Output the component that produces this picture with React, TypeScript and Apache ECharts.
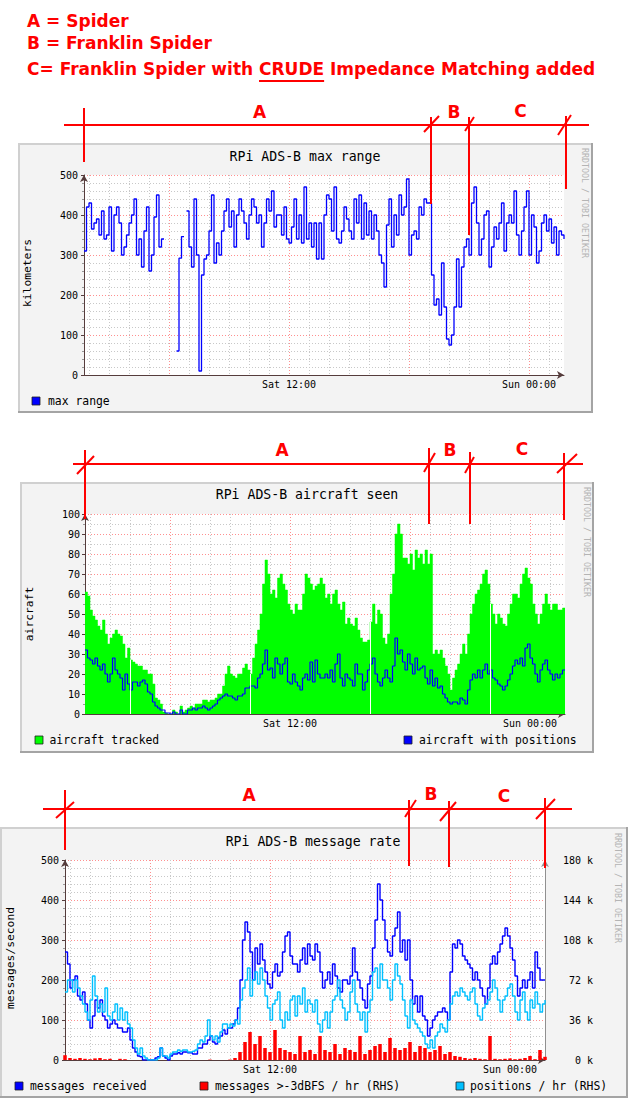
import React, { useEffect, useRef } from "react";
import * as echarts from "echarts";

// ---------- time categories (7.5 min steps, Sat 01:45 .. Sun 01:45) ----------
const START_SEC = 105 * 60;
const STEP_SEC = 450;
const N_POINTS = 193;
function stamp(sec: number) {
  const day = sec >= 86400 ? "Sun" : "Sat";
  const s = sec % 86400;
  const hh = Math.floor(s / 3600);
  const mi = Math.floor((s % 3600) / 60);
  const ss = s % 60;
  const p = (n: number) => String(n).padStart(2, "0");
  return `${day} ${p(hh)}:${p(mi)}:${p(ss)}`;
}
const categories: string[] = Array.from({ length: N_POINTS }, (_, i) => stamp(START_SEC + STEP_SEC * i));
// 15 min categories used by the bar series of the third graph
const barCategories: string[] = Array.from({ length: 97 }, (_, i) => stamp(START_SEC + 900 * i));
const xTickLabels = ["Sat 12:00", "Sun 00:00"];

// ---------- graph 1: max range (km) ----------
const maxRange: (number | null)[] = [
  310, 420, 430, 365, 380, 390, 350, 410, 340, 350,
  420, 310, 400, 420, 380, 300, 320, 350, 380, 400,
  440, 300, 340, 270, 360, 420, 260, 300, 395, 450,
  320, 340, null, null, null, null, null, 60, 292, 346,
  null, 410, 320, 270, 440, 300, 10, 250, 290, 300,
  360, 450, 280, 330, 300, 360, 410, 440, 370, 410,
  320, 400, 440, 410, 380, 340, 400, 440, 420, 380,
  400, 320, 380, 440, 410, 460, 370, 400, 400, 350,
  420, 340, 330, 370, 440, 340, 400, 330, 470, 340,
  380, 320, 380, 290, 380, 290, 400, 450, 440, 360,
  470, 340, 330, 360, 420, 390, 360, 340, 440, 380,
  450, 340, 430, 350, 410, 340, 400, 360, 300, 280,
  220, 375, 440, 320, 400, 350, 450, 400, 420, 490,
  300, 350, 360, 340, 420, 400, 440, 430, 430, 250,
  175, 190, 150, 280, 170, 90, 75, 100, 170, 290,
  170, 270, 320, 340, 300, 430, 470, 380, 300, 340,
  400, 410, 270, 320, 370, 340, 380, 430, 310, 380,
  400, 380, 460, 350, 300, 360, 420, 460, 300, 400,
  370, 280, 310, 380, 400, 360, 390, 330, 370, 300,
  360, 350, 340,
];

// ---------- graph 2: aircraft seen ----------
const aircraftTracked: number[] = [
  61, 59, 52, 49, 47, 44, 42, 47, 40, 35,
  38, 40, 42, 40, 39, 35, 28, 33, 27, 26,
  25, 24, 24, 22, 22, 20, 20, 15, 8, 7,
  5, 1, 0.5, 0, 0, 2, 1, 0, 4, 1,
  2, 3, 4, 3, 5, 5, 5, 7, 7, 6,
  7, 7, 8, 10, 10, 14, 20, 24, 20, 19,
  18, 20, 20, 23, 25, 22, 20, 28, 35, 42,
  50, 65, 77, 70, 60, 62, 58, 68, 70, 65,
  62, 55, 52, 50, 55, 52, 52, 60, 70, 68,
  65, 62, 64, 65, 68, 65, 58, 60, 55, 60,
  62, 55, 52, 56, 45, 48, 45, 44, 48, 42,
  38, 36, 36, 37, 46, 55, 45, 52, 50, 38,
  35, 40, 60, 70, 90, 95, 90, 78, 78, 75,
  80, 72, 82, 78, 80, 75, 82, 75, 80, 30,
  32, 30, 32, 28, 24, 20, 12, 18, 22, 25,
  30, 35, 30, 40, 50, 55, 60, 62, 65, 70,
  72, 65, 55, 50, 45, 50, 48, 45, 44, 50,
  55, 60, 60, 58, 65, 70, 73, 68, 65, 55,
  50, 45, 50, 55, 60, 55, 52, 55, 55, 52,
  52, 53, 53,
];
const aircraftWithPositions: number[] = [
  32, 28, 27, 25, 28, 24, 22, 25, 20, 16,
  20, 28, 22, 20, 18, 12, 20, 15, 12, 16,
  16, 14, 16, 17, 15, 11, 10, 6, 4, 3,
  2, 2, 0.5, 0.5, 0, 1, 0, 0, 2, 0,
  0, 2, 2, 3, 2, 3, 3, 4, 3, 2,
  3, 4, 5, 7, 8, 9, 10, 9, 9, 8,
  7, 9, 9, 10, 13, 13, 14, 14, 13, 18,
  20, 25, 32, 22, 23, 18, 28, 25, 20, 25,
  28, 16, 15, 20, 16, 14, 12, 18, 20, 17,
  26, 16, 27, 20, 18, 18, 20, 18, 22, 16,
  25, 30, 18, 14, 20, 18, 17, 14, 25, 20,
  20, 12, 16, 22, 25, 28, 20, 16, 14, 18,
  22, 18, 16, 24, 38, 30, 32, 26, 22, 30,
  25, 20, 28, 22, 23, 24, 18, 15, 22, 14,
  18, 13, 14, 10, 8, 6, 5, 6, 6, 5,
  8, 7, 5, 12, 17, 20, 18, 22, 18, 22,
  25, 20, 22, 18, 17, 15, 14, 12, 14, 17,
  20, 24, 27, 25, 28, 24, 33, 35, 28, 25,
  20, 16, 22, 25, 27, 22, 20, 17, 20, 18,
  20, 22, 22,
];
const trackedGapIndex = [18, 66, 114, 162];

// ---------- graph 3: message rate ----------
const messagesReceived: number[] = [
  270, 240, 180, 200, 210, 160, 150, 170, 140, 100,
  80, 110, 150, 130, 150, 110, 100, 80, 90, 100,
  90, 80, 80, 70, 70, 80, 50, 30, 20, 10,
  8, 0, 0, 0, 0, 0, 5, 8, 30, 10,
  5, 0, 10, 15, 15, 18, 15, 20, 20, 18,
  18, 15, 15, 30, 30, 40, 40, 50, 60, 45,
  40, 55, 60, 75, 65, 80, 80, 90, 100, 130,
  200, 300, 345, 320, 270, 200, 280, 240, 290, 250,
  220, 190, 180, 220, 240, 210, 220, 270, 310, 320,
  260, 240, 240, 220, 250, 280, 240, 290, 260, 250,
  290, 270, 220, 180, 200, 220, 190, 240, 210, 180,
  170, 200, 200, 190, 210, 280, 220, 200, 180, 150,
  130, 190, 210, 280, 350, 440, 400, 350, 300, 270,
  260, 310, 330, 370, 270, 300, 250, 300, 200, 140,
  160, 120, 160, 110, 100, 60, 80, 100, 110, 120,
  120, 130, 120, 100, 220, 290, 280, 300, 290, 260,
  250, 240, 230, 200, 220, 200, 180, 160, 140, 180,
  240, 260, 240, 270, 290, 310, 330, 310, 280, 250,
  210, 160, 180, 200, 180, 200, 220, 180, 270, 230,
  200, 200, 200,
];
// thousands per hour (right-hand axis)
const strongPerHourK: number[] = [
  4.32, 1.8, 1.08, 1.8, 1.08, 0.72, 1.44, 1.8, 0.72, 1.08,
  0, 1.08, 0.72, 0, 0, 0, 0, 0, 0, 0,
  0, 0, 0, 0, 0, 0, 0, 0, 0, 0.36,
  0, 0, 0, 0.36, 1.8, 7.2, 16.2, 25.2, 14.4, 21.6,
  10.8, 7.2, 27, 10.8, 9, 7.2, 5.4, 21.6, 7.2, 9,
  5.4, 21.6, 9, 7.2, 14.4, 5.4, 10.8, 9, 7.2, 21.6,
  5.4, 9, 12.6, 14.4, 7.2, 19.8, 10.8, 9, 10.8, 16.2,
  7.2, 12.6, 10.8, 7.2, 9, 12.6, 5.4, 7.2, 3.6, 2.88,
  1.8, 1.08, 1.8, 1.08, 0.72, 21.6, 1.08, 0.72, 1.08, 1.44,
  0.72, 1.08, 1.8, 3.6, 0.72, 9, 2.88,
];
const positionsPerHourK: number[] = [
  61.2, 72, 72, 61.2, 72, 64.8, 57.6, 50.4, 43.2, 36,
  54, 75.6, 57.6, 43.2, 50.4, 43.2, 64.8, 39.6, 36, 43.2,
  50.4, 36, 46.8, 36, 43.2, 32.4, 28.8, 18, 10.8, 5.4,
  10.8, 3.6, 1.8, 0, 0, 0, 0, 1.8, 10.8, 3.6,
  3.6, 1.8, 5.4, 7.2, 7.2, 9, 7.9, 9, 9, 7.2,
  7.2, 7.9, 9, 14.4, 18, 16.2, 21.6, 36, 21.6, 18,
  21.6, 16.2, 25.2, 32.4, 32.4, 28.8, 32.4, 30.6, 36, 32.4,
  54, 64.8, 72, 82.8, 57.6, 72, 79.2, 68.4, 82.8, 72,
  57.6, 46.8, 36, 50.4, 54, 61.2, 36, 28.8, 43.2, 36,
  54, 57.6, 39.6, 57.6, 50.4, 64.8, 43.2, 54, 50.4, 43.2,
  54, 32.4, 25.2, 36, 43.2, 28.8, 43.2, 54, 57.6, 72,
  54, 46.8, 36, 43.2, 61.2, 72, 50.4, 43.2, 36, 43.2,
  25.2, 43.2, 54, 79.2, 82.8, 64.8, 86.4, 72, 72, 64.8,
  54, 72, 86.4, 75.6, 68.4, 54, 39.6, 28.8, 54, 36,
  32.4, 28.8, 25.2, 21.6, 14.4, 10.8, 18, 10.8, 21.6, 25.2,
  32.4, 28.8, 25.2, 36, 50.4, 57.6, 61.2, 57.6, 64.8, 61.2,
  57.6, 54, 61.2, 64.8, 50.4, 39.6, 36, 46.8, 50.4, 54,
  61.2, 72, 64.8, 54, 43.2, 54, 57.6, 64.8, 68.4, 57.6,
  43.2, 36, 54, 61.2, 43.2, 36, 54, 46.8, 61.2, 50.4,
  43.2, 50.4, 54,
];

// ---------- styling ----------
const MONO = '"DejaVu Sans Mono", monospace';
const SANS = '"DejaVu Sans", sans-serif';
const RED = "#ff0000";
const MINOR = "#c8c8c8";
const MAJOR = "#ff8f8f";
const AXIS = "#553c3c";

const isHour = (v: string) => v.endsWith(":00:00");
const isMajor = (v: string) => isHour(v) && parseInt(v.slice(4, 6), 10) % 6 === 0;

function xAxesFor(g: number) {
  return [
    {
      type: "category",
      gridIndex: g,
      data: categories,
      boundaryGap: false,
      position: "bottom",
      axisLine: {
        show: true,
        onZero: false,
        symbol: ["none", "arrow"],
        symbolSize: [6, 7],
        lineStyle: { color: AXIS, width: 1 },
      },
      axisTick: { show: false },
      axisLabel: {
        show: true,
        interval: (_i: number, v: string) => isHour(v) && xTickLabels.includes(v.slice(0, 9)),
        formatter: (v: string) => v.slice(0, 9),
        margin: 4,
        fontFamily: MONO,
        fontSize: 10,
        color: "#000",
      },
      splitLine: {
        show: true,
        interval: (_i: number, v: string) => isHour(v) && !isMajor(v),
        lineStyle: { color: MINOR, width: 1, type: [1, 2] },
      },
    },
    {
      type: "category",
      gridIndex: g,
      data: categories,
      boundaryGap: false,
      position: "bottom",
      axisLine: { show: false },
      axisTick: { show: false },
      axisLabel: { show: false },
      splitLine: {
        show: true,
        interval: (_i: number, v: string) => isMajor(v),
        lineStyle: { color: MAJOR, width: 1, type: [1, 2] },
      },
    },
  ];
}

function yAxisFor(g: number, max: number, interval: number, minorSplit: number, margin: number) {
  return {
    type: "value",
    gridIndex: g,
    min: 0,
    max,
    interval,
    position: "left",
    axisLine: {
      show: true,
      symbol: ["none", "arrow"],
      symbolSize: [6, 7],
      lineStyle: { color: AXIS, width: 1 },
    },
    axisTick: { show: true, length: 3, lineStyle: { color: AXIS } },
    minorTick: { show: true, splitNumber: minorSplit, length: 2, lineStyle: { color: "#999" } },
    axisLabel: { margin, fontFamily: MONO, fontSize: 10, color: "#000" },
    splitLine: { show: true, lineStyle: { color: MAJOR, width: 1, type: [1, 2] } },
    minorSplitLine: { show: true, lineStyle: { color: MINOR, width: 1, type: [1, 2] } },
  };
}

function frame(x: number, y: number, w: number, h: number) {
  return [
    { type: "rect", z: -10, silent: true, shape: { x, y, width: w, height: h }, style: { fill: "#f3f3f3" } },
    { type: "line", z: -9, silent: true, shape: { x1: x, y1: y + 1, x2: x + w, y2: y + 1 }, style: { stroke: "#d0d0d0", lineWidth: 2 } },
    { type: "line", z: -9, silent: true, shape: { x1: x + 1, y1: y, x2: x + 1, y2: y + h }, style: { stroke: "#d0d0d0", lineWidth: 2 } },
    { type: "line", z: -9, silent: true, shape: { x1: x, y1: y + h - 1, x2: x + w, y2: y + h - 1 }, style: { stroke: "#a4a4a4", lineWidth: 2 } },
    { type: "line", z: -9, silent: true, shape: { x1: x + w - 1, y1: y, x2: x + w - 1, y2: y + h }, style: { stroke: "#a4a4a4", lineWidth: 2 } },
  ];
}

function txt(text: string, x: number, y: number, size: number, opts: any = {}) {
  const align = opts.align || "left";
  return {
    type: "text",
    x,
    y,
    rotation: opts.rotation || 0,
    z: opts.z ?? 10,
    silent: true,
    style: {
      text,
      fill: opts.fill || "#000",
      fontFamily: opts.family || MONO,
      fontSize: size,
      fontWeight: opts.weight || "normal",
      align,
      textAlign: align,
      verticalAlign: "middle",
      textVerticalAlign: "middle",
    },
  };
}

function legendBox(x: number, y: number, color: string) {
  return {
    type: "rect",
    z: 10,
    silent: true,
    shape: { x, y, width: 8, height: 8 },
    style: { fill: color, stroke: "#202020", lineWidth: 0.8 },
  };
}

function redLine(x1: number, y1: number, x2: number, y2: number) {
  return {
    type: "line",
    z: 100,
    silent: true,
    shape: { x1, y1, x2, y2 },
    style: { stroke: RED, lineWidth: 2 },
  };
}

const stepLine = (name: string, x: number, y: number, data: any[], color: string, width: number) => ({
  name,
  type: "line",
  xAxisIndex: x,
  yAxisIndex: y,
  data,
  step: "end",
  symbol: "none",
  showSymbol: false,
  connectNulls: false,
  lineStyle: { color, width },
  itemStyle: { color },
});

const App: React.FC = () => {
  const ref = useRef<HTMLDivElement>(null);

  useEffect(() => {
    if (!ref.current) return;
    const chart = echarts.init(ref.current, null, { renderer: "svg" });

    const headerFont = 'bold 17px "DejaVu Sans"';
    let preW = 233;
    let crudeW = 73;
    const cv = document.createElement("canvas").getContext("2d");
    if (cv) {
      cv.font = headerFont;
      preW = cv.measureText("C= Franklin Spider with ").width;
      crudeW = cv.measureText("CRUDE").width;
    }
    const hx = 27;

    const bold = (t: string, x: number, y: number) =>
      txt(t, x, y, 17, { family: SANS, weight: "bold", fill: RED, z: 100 });
    const letter = (t: string, x: number, y: number) =>
      txt(t, x, y, 17, { family: SANS, weight: "bold", fill: RED, z: 100, align: "center" });

    const graphic: any[] = [
      ...frame(18, 143, 575, 270),
      ...frame(20, 482, 574, 271),
      ...frame(0, 827, 628, 271),

      bold("A = Spider", hx, 21),
      bold("B = Franklin Spider", hx, 43),
      bold("C= Franklin Spider with CRUDE Impedance Matching added", hx, 69),
      redLine(hx + preW, 81, hx + preW + crudeW, 81),

      txt("RPi ADS-B max range", 305, 156, 13.2, { align: "center" }),
      txt("kilometers", 27, 273, 11.3, { align: "center", rotation: Math.PI / 2 }),
      txt("RRDTOOL / TOBI OETIKER", 585, 203, 8.3, { align: "center", rotation: -Math.PI / 2, fill: "#b4b4b4" }),
      legendBox(32, 397, "#0000ff"),
      txt("max range", 48, 401, 11.4),

      txt("RPi ADS-B aircraft seen", 307, 494, 13.2, { align: "center" }),
      txt("aircraft", 29.5, 614, 11.3, { align: "center", rotation: Math.PI / 2 }),
      txt("RRDTOOL / TOBI OETIKER", 587, 542, 8.3, { align: "center", rotation: -Math.PI / 2, fill: "#b4b4b4" }),
      legendBox(35, 736, "#00ff00"),
      txt("aircraft tracked", 49.5, 740, 11.4),
      legendBox(404, 736, "#0000ff"),
      txt("aircraft with positions", 419, 740, 11.4),

      txt("RPi ADS-B message rate", 313, 841, 13.2, { align: "center" }),
      txt("messages/second", 10, 958, 11.3, { align: "center", rotation: Math.PI / 2 }),
      txt("RRDTOOL / TOBI OETIKER", 618, 888, 8.3, { align: "center", rotation: -Math.PI / 2, fill: "#b4b4b4" }),
      legendBox(15, 1082, "#0000ff"),
      txt("messages received", 30, 1086, 11.4),
      legendBox(200, 1082, "#ff0000"),
      txt("messages >-3dBFS / hr (RHS)", 215, 1086, 11.4),
      legendBox(456, 1082, "#00c0ff"),
      txt("positions / hr (RHS)", 470, 1086, 11.4),

      redLine(64, 125, 589, 125),
      redLine(84, 108, 84, 162),
      redLine(431, 117, 431, 204),
      redLine(424, 132, 439, 116),
      redLine(469, 117, 469, 235),
      redLine(465, 131, 474, 117),
      redLine(566, 116, 566, 189),
      redLine(558, 135, 571, 115),
      letter("A", 259.5, 112),
      letter("B", 454, 112),
      letter("C", 520.5, 111),

      redLine(73, 464, 583, 464),
      redLine(85, 450, 85, 519),
      redLine(77, 474, 94, 456),
      redLine(429, 448, 429, 524),
      redLine(424, 472, 435, 453),
      redLine(470, 452, 470, 524),
      redLine(465, 473, 474, 457),
      redLine(564, 453, 564, 520),
      redLine(557, 473, 577, 454),
      letter("A", 282, 450),
      letter("B", 450, 450),
      letter("C", 522, 449),

      redLine(43, 809, 572, 809),
      redLine(65, 790, 65, 850),
      redLine(56, 818, 74, 802),
      redLine(409, 800, 409, 866),
      redLine(405, 817, 416, 800),
      redLine(449, 801, 449, 867),
      redLine(440, 821, 456, 802),
      redLine(545, 798, 545, 868),
      redLine(536, 819, 555, 799),
      letter("A", 249, 795),
      letter("B", 431, 794),
      letter("C", 504, 796),
    ];

    const gridBase = { show: true, backgroundColor: "#ffffff", borderWidth: 0, containLabel: false };

    const option: any = {
      animation: false,
      backgroundColor: "#ffffff",
      grid: [
        { ...gridBase, left: 84, top: 175, width: 480, height: 200 },
        { ...gridBase, left: 85, top: 514, width: 480, height: 200 },
        { ...gridBase, left: 65, top: 860, width: 480, height: 200 },
      ],
      xAxis: [
        ...xAxesFor(0),
        ...xAxesFor(1),
        ...xAxesFor(2),
        { type: "category", gridIndex: 2, data: barCategories, boundaryGap: false, show: false },
      ],
      yAxis: [
        yAxisFor(0, 500, 100, 5, 6),
        yAxisFor(1, 100, 10, 2, 5),
        yAxisFor(2, 500, 100, 5, 6),
        {
          type: "value",
          gridIndex: 2,
          min: 0,
          max: 180,
          interval: 36,
          position: "right",
          axisLine: {
            show: true,
            symbol: ["none", "arrow"],
            symbolSize: [6, 7],
            lineStyle: { color: "#909090", width: 1 },
          },
          axisTick: { show: false },
          axisLabel: {
            margin: 48,
            align: "right",
            fontFamily: MONO,
            fontSize: 10,
            color: "#000",
            formatter: (v: number) => `${v} k`,
          },
          splitLine: { show: false },
        },
      ],
      series: [
        stepLine("max range", 0, 0, maxRange, "#0000ff", 1.3),
        {
          name: "aircraft tracked",
          type: "line",
          xAxisIndex: 2,
          yAxisIndex: 1,
          data: aircraftTracked,
          step: "end",
          symbol: "none",
          showSymbol: false,
          lineStyle: { color: "#00ff00", width: 0.5 },
          areaStyle: { color: "#00ff00", opacity: 1 },
          itemStyle: { color: "#00ff00" },
          markLine: {
            silent: true,
            symbol: ["none", "none"],
            label: { show: false },
            lineStyle: { color: "#ffffff", width: 1, type: "solid" },
            data: trackedGapIndex.map((i) => [
              { coord: [i, 0] },
              { coord: [i, aircraftTracked[i]] },
            ]),
          },
        },
        stepLine("aircraft with positions", 2, 1, aircraftWithPositions, "#0000ff", 1.2),
        stepLine("messages received", 4, 2, messagesReceived, "#0000ff", 1.4),
        {
          name: "messages >-3dBFS / hr (RHS)",
          type: "bar",
          xAxisIndex: 6,
          yAxisIndex: 3,
          data: strongPerHourK,
          barWidth: 3.5,
          itemStyle: { color: "#ff0000" },
        },
        stepLine("positions / hr (RHS)", 4, 3, positionsPerHourK, "#00c0ff", 1.4),
      ],
      graphic,
    };

    chart.setOption(option);
    return () => chart.dispose();
  }, []);

  return (
    <div
      ref={ref}
      style={{ position: "absolute", left: 0, top: 0, width: 628, height: 1100 }}
    />
  );
};

export default App;
